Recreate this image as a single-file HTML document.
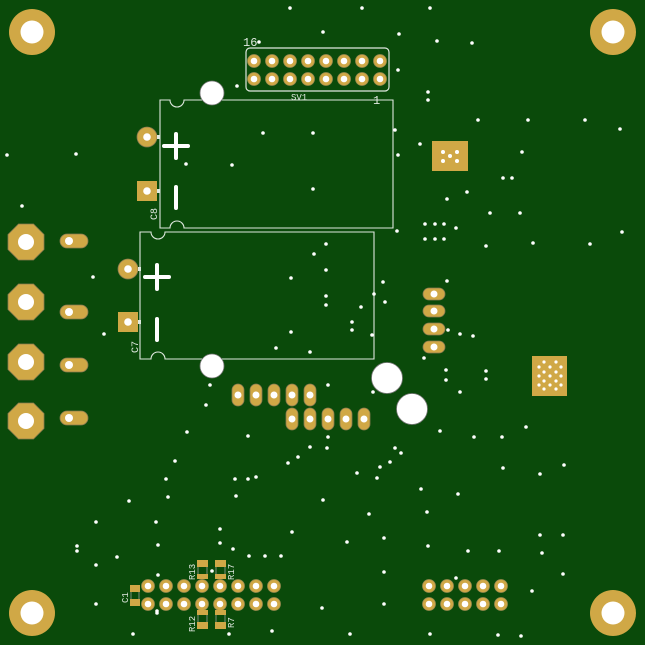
<!DOCTYPE html>
<html><head><style>
html,body{margin:0;padding:0;background:#0a4a0a;}
svg{display:block;}
text{font-family:"Liberation Mono",monospace;fill:#dfe8df;}
</style></head><body>
<svg width="645" height="645" viewBox="0 0 645 645" xmlns="http://www.w3.org/2000/svg">
<rect width="645" height="645" fill="#0a4a0a"/>
<defs>
<g id="mh"><circle r="23" fill="#d0a846"/><circle r="11.5" fill="#fff"/></g>
<g id="tp"><circle r="6.5" fill="#d0a846" stroke="#9a8a50" stroke-width="0.8"/><circle r="3.3" fill="#fff"/></g>
<g id="oct"><polygon points="-7.5,-18 7.5,-18 18,-7.5 18,7.5 7.5,18 -7.5,18 -18,7.5 -18,-7.5" fill="#d0a846" stroke="#8a7a50" stroke-width="0.8"/><circle r="8" fill="#fff"/></g>
<g id="ovh"><rect x="-14" y="-7" width="28" height="14" rx="7" fill="#d0a846" stroke="#8a7a50" stroke-width="0.8"/><circle cx="-5" r="4" fill="#fff"/></g>
<g id="ovs"><rect x="-11" y="-6" width="22" height="12" rx="6" fill="#d0a846" stroke="#8a7a50" stroke-width="0.8"/><circle r="3.5" fill="#fff"/></g>
<g id="ovv"><rect x="-6" y="-11" width="12" height="22" rx="6" fill="#d0a846" stroke="#8a7a50" stroke-width="0.8"/><circle r="3.5" fill="#fff"/></g>
</defs>

<use href="#mh" x="32" y="32"/><use href="#mh" x="613" y="32"/>
<use href="#mh" x="32" y="613"/><use href="#mh" x="613" y="613"/>

<!-- header SV1 -->
<rect x="246" y="48" width="143" height="43" rx="4" fill="none" stroke="#dfe8df" stroke-width="1.2"/>
<g>
<use href="#tp" x="254" y="61"/><use href="#tp" x="272" y="61"/><use href="#tp" x="290" y="61"/><use href="#tp" x="308" y="61"/><use href="#tp" x="326" y="61"/><use href="#tp" x="344" y="61"/><use href="#tp" x="362" y="61"/><use href="#tp" x="380" y="61"/>
<use href="#tp" x="254" y="79"/><use href="#tp" x="272" y="79"/><use href="#tp" x="290" y="79"/><use href="#tp" x="308" y="79"/><use href="#tp" x="326" y="79"/><use href="#tp" x="344" y="79"/><use href="#tp" x="362" y="79"/><use href="#tp" x="380" y="79"/>
</g>
<text x="243" y="46" font-size="12">16</text>
<text x="291" y="100" font-size="9">SV1</text>
<text x="373" y="104" font-size="12">1</text>

<!-- C8 -->
<path d="M160,100 H170 A7,7 0 0 0 184,100 H393 V228 H184 A7,7 0 0 0 170,228 H160 Z" fill="none" stroke="#dfe8df" stroke-width="1.1"/>
<circle cx="147" cy="137" r="10" fill="#d0a846" stroke="#8a7a50" stroke-width="0.8"/><circle cx="147" cy="137" r="3.8" fill="#fff"/>
<rect x="137" y="181" width="20" height="20" fill="#d0a846"/><circle cx="147" cy="191" r="3.8" fill="#fff"/>
<rect x="157" y="135" width="3" height="4" fill="#dfe8df"/><rect x="157" y="189" width="3" height="4" fill="#dfe8df"/>
<path d="M164,146 H188 M176,134 V158 M176,187 V208" stroke="#fff" stroke-width="4" stroke-linecap="round"/>
<text x="0" y="0" font-size="10" transform="translate(157,220) rotate(-90)">C8</text>
<circle cx="212" cy="93" r="12" fill="#fff" stroke="#777" stroke-width="0.8"/>

<!-- C7 -->
<path d="M140,232 H151 A7,7 0 0 0 165,232 H374 V359 H165 A7,7 0 0 0 151,359 H140 Z" fill="none" stroke="#dfe8df" stroke-width="1.1"/>
<circle cx="128" cy="269" r="10" fill="#d0a846" stroke="#8a7a50" stroke-width="0.8"/><circle cx="128" cy="269" r="3.8" fill="#fff"/>
<rect x="118" y="312" width="20" height="20" fill="#d0a846"/><circle cx="128" cy="322" r="3.8" fill="#fff"/>
<rect x="138" y="267" width="3" height="4" fill="#dfe8df"/><rect x="138" y="320" width="3" height="4" fill="#dfe8df"/>
<path d="M145,277 H169 M157,265 V289 M157,319 V340" stroke="#fff" stroke-width="4" stroke-linecap="round"/>
<text x="0" y="0" font-size="10" transform="translate(138,353) rotate(-90)">C7</text>
<circle cx="212" cy="366" r="12" fill="#fff" stroke="#777" stroke-width="0.8"/>

<circle cx="387" cy="378" r="15.5" fill="#fff" stroke="#777" stroke-width="0.8"/>
<circle cx="412" cy="409" r="15.5" fill="#fff" stroke="#777" stroke-width="0.8"/>

<!-- left connectors -->
<use href="#oct" x="26" y="242"/><use href="#oct" x="26" y="302"/><use href="#oct" x="26" y="362"/><use href="#oct" x="26" y="421"/>
<use href="#ovh" x="74" y="241"/><use href="#ovh" x="74" y="312"/><use href="#ovh" x="74" y="365"/><use href="#ovh" x="74" y="418"/>

<!-- right ovals -->
<use href="#ovs" x="434" y="294"/><use href="#ovs" x="434" y="311"/><use href="#ovs" x="434" y="329"/><use href="#ovs" x="434" y="347"/>

<!-- thermal pads -->
<rect x="432" y="141" width="36" height="30" fill="#d0a846"/>
<g fill="#fff"><circle cx="443" cy="152" r="2"/><circle cx="457" cy="152" r="2"/><circle cx="450" cy="156" r="2"/><circle cx="443" cy="161" r="2"/><circle cx="457" cy="161" r="2"/></g>
<rect x="532" y="356" width="35" height="40" fill="#d0a846"/>
<g fill="#fff">
<circle cx="544" cy="362" r="1.6"/><circle cx="556" cy="362" r="1.6"/>
<circle cx="539" cy="367" r="1.6"/><circle cx="550" cy="367" r="1.6"/><circle cx="561" cy="367" r="1.6"/>
<circle cx="544" cy="372" r="1.6"/><circle cx="556" cy="372" r="1.6"/>
<circle cx="539" cy="376" r="1.6"/><circle cx="550" cy="376" r="1.6"/><circle cx="561" cy="376" r="1.6"/>
<circle cx="544" cy="381" r="1.6"/><circle cx="556" cy="381" r="1.6"/>
<circle cx="539" cy="385" r="1.6"/><circle cx="550" cy="385" r="1.6"/><circle cx="561" cy="385" r="1.6"/>
<circle cx="544" cy="389" r="1.6"/><circle cx="556" cy="389" r="1.6"/>
</g>

<!-- pin rows -->
<use href="#ovv" x="238" y="395"/><use href="#ovv" x="256" y="395"/><use href="#ovv" x="274" y="395"/><use href="#ovv" x="292" y="395"/><use href="#ovv" x="310" y="395"/>
<use href="#ovv" x="292" y="419"/><use href="#ovv" x="310" y="419"/><use href="#ovv" x="328" y="419"/><use href="#ovv" x="346" y="419"/><use href="#ovv" x="364" y="419"/>

<!-- bottom left -->
<g>
<use href="#tp" x="148" y="586"/><use href="#tp" x="166" y="586"/><use href="#tp" x="184" y="586"/><use href="#tp" x="202" y="586"/><use href="#tp" x="220" y="586"/><use href="#tp" x="238" y="586"/><use href="#tp" x="256" y="586"/><use href="#tp" x="274" y="586"/>
<use href="#tp" x="148" y="604"/><use href="#tp" x="166" y="604"/><use href="#tp" x="184" y="604"/><use href="#tp" x="202" y="604"/><use href="#tp" x="220" y="604"/><use href="#tp" x="238" y="604"/><use href="#tp" x="256" y="604"/><use href="#tp" x="274" y="604"/>
</g>
<g fill="#d0a846">
<rect x="130" y="585" width="10" height="7"/><rect x="130" y="599" width="10" height="7"/>
<rect x="197" y="560" width="11" height="7"/><rect x="197" y="574" width="11" height="5"/>
<rect x="215" y="560" width="11" height="7"/><rect x="215" y="574" width="11" height="5"/>
<rect x="197" y="610" width="11" height="5"/><rect x="197" y="622" width="11" height="7"/>
<rect x="215" y="610" width="11" height="5"/><rect x="215" y="622" width="11" height="7"/>
</g>
<g fill="none" stroke="#aaa" stroke-width="0.7">
<path d="M131,592 V599 M139,592 V599 M198,567 V574 M207,567 V574 M216,567 V574 M225,567 V574 M198,615 V622 M207,615 V622 M216,615 V622 M225,615 V622"/>
</g>
<text font-size="9" transform="translate(128,603) rotate(-90)">C1</text>
<text font-size="9" transform="translate(195,580) rotate(-90)">R13</text>
<text font-size="9" transform="translate(234,580) rotate(-90)">R17</text>
<text font-size="9" transform="translate(195,632) rotate(-90)">R12</text>
<text font-size="9" transform="translate(234,628) rotate(-90)">R7</text>

<!-- bottom right -->
<use href="#tp" x="429" y="586"/><use href="#tp" x="447" y="586"/><use href="#tp" x="465" y="586"/><use href="#tp" x="483" y="586"/><use href="#tp" x="501" y="586"/>
<use href="#tp" x="429" y="604"/><use href="#tp" x="447" y="604"/><use href="#tp" x="465" y="604"/><use href="#tp" x="483" y="604"/><use href="#tp" x="501" y="604"/>

<!-- vias -->
<g fill="#fff">
<circle cx="290" cy="8" r="1.8"/><circle cx="362" cy="8" r="1.8"/><circle cx="430" cy="8" r="1.8"/><circle cx="323" cy="32" r="1.8"/><circle cx="399" cy="34" r="1.8"/><circle cx="437" cy="41" r="1.8"/><circle cx="472" cy="43" r="1.8"/><circle cx="259" cy="42" r="1.8"/><circle cx="237" cy="86" r="1.8"/><circle cx="398" cy="70" r="1.8"/><circle cx="428" cy="92" r="1.8"/><circle cx="428" cy="100" r="1.8"/><circle cx="395" cy="130" r="1.8"/><circle cx="478" cy="120" r="1.8"/><circle cx="528" cy="120" r="1.8"/><circle cx="585" cy="120" r="1.8"/><circle cx="620" cy="129" r="1.8"/><circle cx="7" cy="155" r="1.8"/><circle cx="76" cy="154" r="1.8"/><circle cx="263" cy="133" r="1.8"/><circle cx="313" cy="133" r="1.8"/><circle cx="186" cy="164" r="1.8"/><circle cx="232" cy="165" r="1.8"/><circle cx="313" cy="189" r="1.8"/><circle cx="398" cy="155" r="1.8"/><circle cx="420" cy="144" r="1.8"/><circle cx="522" cy="152" r="1.8"/><circle cx="503" cy="178" r="1.8"/><circle cx="512" cy="178" r="1.8"/><circle cx="467" cy="192" r="1.8"/><circle cx="447" cy="199" r="1.8"/><circle cx="490" cy="213" r="1.8"/><circle cx="520" cy="213" r="1.8"/><circle cx="22" cy="206" r="1.8"/><circle cx="425" cy="224" r="1.8"/><circle cx="435" cy="224" r="1.8"/><circle cx="444" cy="224" r="1.8"/><circle cx="425" cy="239" r="1.8"/><circle cx="435" cy="239" r="1.8"/><circle cx="444" cy="239" r="1.8"/><circle cx="456" cy="228" r="1.8"/><circle cx="486" cy="246" r="1.8"/><circle cx="533" cy="243" r="1.8"/><circle cx="590" cy="244" r="1.8"/><circle cx="622" cy="232" r="1.8"/><circle cx="397" cy="231" r="1.8"/><circle cx="326" cy="244" r="1.8"/><circle cx="314" cy="254" r="1.8"/><circle cx="326" cy="270" r="1.8"/><circle cx="291" cy="278" r="1.8"/><circle cx="383" cy="282" r="1.8"/><circle cx="326" cy="296" r="1.8"/><circle cx="326" cy="305" r="1.8"/><circle cx="361" cy="307" r="1.8"/><circle cx="374" cy="294" r="1.8"/><circle cx="385" cy="302" r="1.8"/><circle cx="352" cy="322" r="1.8"/><circle cx="352" cy="330" r="1.8"/><circle cx="372" cy="335" r="1.8"/><circle cx="291" cy="332" r="1.8"/><circle cx="276" cy="348" r="1.8"/><circle cx="310" cy="352" r="1.8"/><circle cx="104" cy="334" r="1.8"/><circle cx="93" cy="277" r="1.8"/><circle cx="447" cy="281" r="1.8"/><circle cx="448" cy="330" r="1.8"/><circle cx="460" cy="334" r="1.8"/><circle cx="473" cy="336" r="1.8"/><circle cx="424" cy="358" r="1.8"/><circle cx="446" cy="370" r="1.8"/><circle cx="446" cy="380" r="1.8"/><circle cx="486" cy="371" r="1.8"/><circle cx="486" cy="379" r="1.8"/><circle cx="460" cy="392" r="1.8"/><circle cx="328" cy="385" r="1.8"/><circle cx="210" cy="385" r="1.8"/><circle cx="206" cy="405" r="1.8"/><circle cx="373" cy="392" r="1.8"/><circle cx="440" cy="431" r="1.8"/><circle cx="474" cy="437" r="1.8"/><circle cx="502" cy="437" r="1.8"/><circle cx="526" cy="427" r="1.8"/><circle cx="564" cy="465" r="1.8"/><circle cx="540" cy="474" r="1.8"/><circle cx="248" cy="436" r="1.8"/><circle cx="187" cy="432" r="1.8"/><circle cx="328" cy="437" r="1.8"/><circle cx="327" cy="448" r="1.8"/><circle cx="310" cy="447" r="1.8"/><circle cx="298" cy="457" r="1.8"/><circle cx="288" cy="463" r="1.8"/><circle cx="395" cy="448" r="1.8"/><circle cx="401" cy="453" r="1.8"/><circle cx="390" cy="462" r="1.8"/><circle cx="380" cy="467" r="1.8"/><circle cx="357" cy="473" r="1.8"/><circle cx="377" cy="478" r="1.8"/><circle cx="235" cy="479" r="1.8"/><circle cx="248" cy="479" r="1.8"/><circle cx="256" cy="477" r="1.8"/><circle cx="166" cy="479" r="1.8"/><circle cx="175" cy="461" r="1.8"/><circle cx="129" cy="501" r="1.8"/><circle cx="168" cy="497" r="1.8"/><circle cx="236" cy="496" r="1.8"/><circle cx="323" cy="500" r="1.8"/><circle cx="421" cy="489" r="1.8"/><circle cx="458" cy="494" r="1.8"/><circle cx="503" cy="468" r="1.8"/><circle cx="156" cy="522" r="1.8"/><circle cx="96" cy="522" r="1.8"/><circle cx="369" cy="514" r="1.8"/><circle cx="427" cy="512" r="1.8"/><circle cx="428" cy="546" r="1.8"/><circle cx="292" cy="532" r="1.8"/><circle cx="220" cy="529" r="1.8"/><circle cx="77" cy="546" r="1.8"/><circle cx="77" cy="551" r="1.8"/><circle cx="117" cy="557" r="1.8"/><circle cx="158" cy="545" r="1.8"/><circle cx="220" cy="543" r="1.8"/><circle cx="233" cy="549" r="1.8"/><circle cx="249" cy="556" r="1.8"/><circle cx="265" cy="556" r="1.8"/><circle cx="281" cy="556" r="1.8"/><circle cx="347" cy="542" r="1.8"/><circle cx="384" cy="538" r="1.8"/><circle cx="468" cy="551" r="1.8"/><circle cx="499" cy="551" r="1.8"/><circle cx="540" cy="535" r="1.8"/><circle cx="542" cy="553" r="1.8"/><circle cx="563" cy="535" r="1.8"/><circle cx="96" cy="565" r="1.8"/><circle cx="384" cy="572" r="1.8"/><circle cx="456" cy="578" r="1.8"/><circle cx="532" cy="591" r="1.8"/><circle cx="563" cy="574" r="1.8"/><circle cx="96" cy="604" r="1.8"/><circle cx="157" cy="613" r="1.8"/><circle cx="272" cy="631" r="1.8"/><circle cx="322" cy="608" r="1.8"/><circle cx="384" cy="604" r="1.8"/><circle cx="133" cy="634" r="1.8"/><circle cx="229" cy="634" r="1.8"/><circle cx="350" cy="634" r="1.8"/><circle cx="430" cy="634" r="1.8"/><circle cx="498" cy="635" r="1.8"/><circle cx="521" cy="636" r="1.8"/><circle cx="212" cy="571" r="1.8"/><circle cx="158" cy="575" r="1.8"/><circle cx="157" cy="611" r="1.8"/>
</g>
</svg>
</body></html>
